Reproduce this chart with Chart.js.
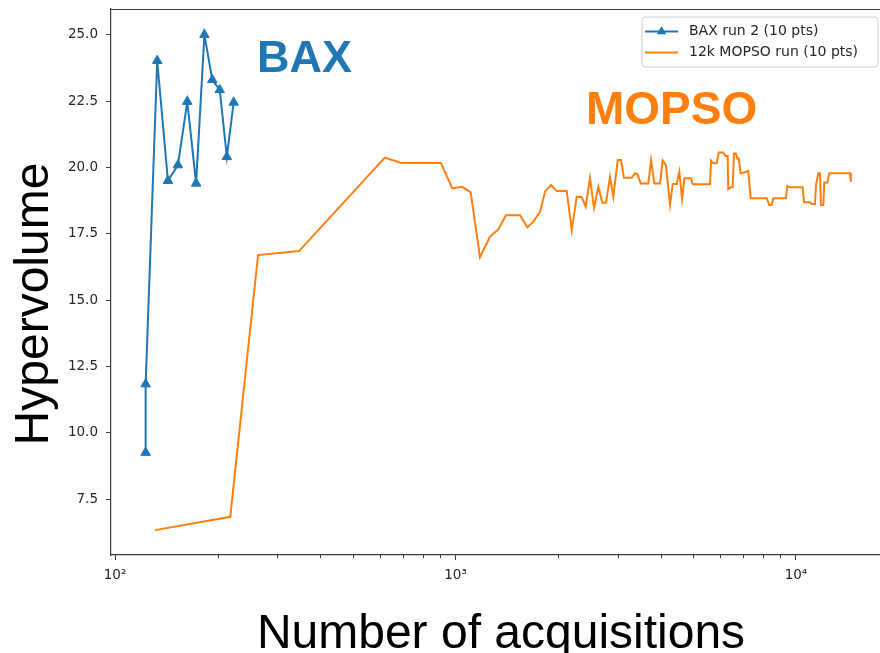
<!DOCTYPE html>
<html><head><meta charset="utf-8">
<script src="https://cdn.jsdelivr.net/npm/chart.js@4.4.0/dist/chart.umd.min.js"></script>
<style>html,body{margin:0;padding:0;background:#fff;overflow:hidden}#wrap{width:880px;height:653px;position:relative}</style>
</head><body><div id="wrap"><canvas id="c" width="880" height="653"></canvas></div>
<script>
// ---- data ----
const seriesLabels = ['BAX run 2 (10 pts)', '12k MOPSO run (10 pts)'];
const baxX = [123, 123, 133, 143, 153, 163, 173, 183, 193, 203, 213, 223];
const baxY = [9.26, 11.84, 24.02, 19.5, 20.09, 22.48, 19.4, 25.0, 23.3, 22.92, 20.4, 22.45];
const mopsoX = [131, 218, 263, 347, 620, 692, 906, 978, 1047, 1108, 1180, 1262, 1336, 1407, 1547, 1625, 1693, 1771, 1832, 1908, 1982, 2121, 2195, 2270, 2348, 2412, 2483, 2551, 2627, 2698, 2767, 2842, 2907, 2995, 3062, 3125, 3293, 3367, 3420, 3499, 3684, 3752, 3837, 3986, 4060, 4150, 4266, 4345, 4463, 4543, 4627, 4699, 4916, 4974, 5591, 5629, 5717, 5850, 5929, 6116, 6200, 6300, 6326, 6429, 6517, 6575, 6665, 6724, 6787, 6880, 7082, 7242, 7362, 8204, 8349, 8486, 8577, 9345, 9428, 9600, 10460, 10560, 10990, 11120, 11370, 11450, 11630, 11760, 11840, 12030, 12110, 12360, 12520, 14410, 14500];
const mopsoY = [6.34, 6.84, 16.7, 16.85, 20.37, 20.17, 20.17, 19.21, 19.27, 19.06, 16.62, 17.39, 17.67, 18.2, 18.2, 17.75, 17.96, 18.33, 19.09, 19.34, 19.11, 19.11, 17.64, 18.9, 18.88, 18.52, 19.59, 18.48, 19.27, 18.67, 18.67, 19.65, 18.9, 20.28, 20.28, 19.61, 19.61, 19.78, 19.74, 19.4, 19.4, 20.28, 19.4, 19.4, 20.26, 20.09, 18.59, 19.38, 19.38, 19.84, 18.81, 19.59, 19.59, 19.37, 19.37, 20.26, 20.16, 20.16, 20.56, 20.56, 20.43, 20.43, 19.18, 19.25, 19.25, 20.53, 20.53, 20.34, 20.34, 19.78, 19.82, 19.87, 18.84, 18.84, 18.59, 18.59, 18.84, 18.84, 19.3, 19.25, 19.25, 18.69, 18.69, 18.62, 18.62, 19.34, 19.78, 19.78, 18.59, 18.59, 19.43, 19.43, 19.78, 19.78, 19.46];
const yTickValues = [7.5, 10, 12.5, 15, 17.5, 20, 22.5, 25];
const xMajorTicks = [100, 1000, 10000];
const xTickLabels = ['10²', '10³', '10⁴'];
const xMinorTicks = [200, 300, 400, 500, 600, 700, 800, 900, 2000, 3000, 4000, 5000, 6000, 7000, 8000, 9000];
const xTitle = 'Number of acquisitions';
const yTitle = 'Hypervolume';
const annotationTexts = ['BAX', 'MOPSO'];

const BLUE = '#1f77b4', ORANGE = '#ff7f0e', AXIS = '#3a3a3a', TXT = '#262626';

function pts(xs, ys) { return xs.map((v, i) => ({x: v, y: ys[i]})); }

const extras = {
  id: 'extras',
  afterDraw(chart) {
    const ctx = chart.ctx, a = chart.chartArea, xs = chart.scales.x;
    ctx.save();
    // top spine
    ctx.strokeStyle = AXIS; ctx.lineWidth = 1.2;
    ctx.beginPath(); ctx.moveTo(a.left, a.top + 0.5); ctx.lineTo(a.right, a.top + 0.5); ctx.stroke();
    // minor ticks
    ctx.lineWidth = 1;
    xMinorTicks.forEach(v => {
      const px = Math.round(xs.getPixelForValue(v)) + 0.5;
      ctx.beginPath(); ctx.moveTo(px, a.bottom); ctx.lineTo(px, a.bottom + 3); ctx.stroke();
    });
    // axis titles
    ctx.fillStyle = '#000';
    ctx.font = '48px "Liberation Sans", Arial, sans-serif';
    ctx.textAlign = 'center'; ctx.textBaseline = 'alphabetic';
    ctx.fillText(xTitle, 501, 648);
    ctx.save(); ctx.translate(48, 304); ctx.rotate(-Math.PI / 2); ctx.fillText(yTitle, 0, 0); ctx.restore();
    // annotations
    ctx.textAlign = 'left';
    ctx.font = 'bold 45px "Liberation Sans", Arial, sans-serif';
    ctx.fillStyle = BLUE; ctx.fillText(annotationTexts[0], 257, 72);
    ctx.font = 'bold 46px "Liberation Sans", Arial, sans-serif';
    ctx.fillStyle = ORANGE; ctx.fillText(annotationTexts[1], 586, 124);
    // legend
    const lx = 642, ly = 17, lw = 236, lh = 50, r = 3;
    ctx.beginPath();
    ctx.moveTo(lx + r, ly); ctx.lineTo(lx + lw - r, ly); ctx.arcTo(lx + lw, ly, lx + lw, ly + r, r);
    ctx.lineTo(lx + lw, ly + lh - r); ctx.arcTo(lx + lw, ly + lh, lx + lw - r, ly + lh, r);
    ctx.lineTo(lx + r, ly + lh); ctx.arcTo(lx, ly + lh, lx, ly + lh - r, r);
    ctx.lineTo(lx, ly + r); ctx.arcTo(lx, ly, lx + r, ly, r); ctx.closePath();
    ctx.fillStyle = 'rgba(255,255,255,0.85)'; ctx.fill();
    ctx.strokeStyle = '#cccccc'; ctx.lineWidth = 1; ctx.stroke();
    const rows = [31.5, 52.5];
    chart.data.datasets.forEach((ds, i) => {
      const y = rows[i];
      ctx.strokeStyle = ds.borderColor; ctx.lineWidth = 2;
      ctx.beginPath(); ctx.moveTo(645, y); ctx.lineTo(678, y); ctx.stroke();
      if (ds.pointRadius > 0) {
        const R = 5.5, cx = 661.5;
        ctx.fillStyle = ds.borderColor; ctx.beginPath();
        ctx.moveTo(cx, y - R); ctx.lineTo(cx + R * 0.866, y + R / 2); ctx.lineTo(cx - R * 0.866, y + R / 2); ctx.closePath(); ctx.fill();
      }
      ctx.fillStyle = TXT; ctx.font = '14px "DejaVu Sans", sans-serif';
      ctx.textAlign = 'left'; ctx.textBaseline = 'middle';
      ctx.fillText(ds.label, 689, y);
    });
    ctx.restore();
  }
};

new Chart(document.getElementById('c'), {
  type: 'scatter',
  data: {
    datasets: [
      {label: seriesLabels[0], data: pts(baxX, baxY), showLine: true, borderColor: BLUE, backgroundColor: BLUE,
       borderWidth: 2, pointStyle: 'triangle', pointRadius: 5.5, pointBorderWidth: 1, pointBorderColor: BLUE, tension: 0},
      {label: seriesLabels[1], data: pts(mopsoX, mopsoY), showLine: true, borderColor: ORANGE, backgroundColor: ORANGE,
       borderWidth: 2, pointRadius: 0, tension: 0}
    ]
  },
  options: {
    responsive: false, animation: false, devicePixelRatio: 1,
    layout: {autoPadding: false, padding: {top: 9, right: 0, left: 0, bottom: 0}},
    plugins: {legend: {display: false}, tooltip: {enabled: false}},
    scales: {
      x: {
        type: 'logarithmic', position: 'bottom', min: 97.3, max: 17650,
        afterBuildTicks: s => { s.ticks = xMajorTicks.map(v => ({value: v})); },
        afterFit: s => { s.height = 98; s.paddingLeft = 0; s.paddingRight = 0; },
        ticks: {autoSkip: false, maxRotation: 0, padding: 7, color: TXT,
          font: {family: '"DejaVu Sans", sans-serif', size: 13.5},
          callback: v => xTickLabels[xMajorTicks.indexOf(v)]},
        grid: {display: true, drawOnChartArea: false, drawTicks: true, tickLength: 5, tickColor: AXIS, tickWidth: 1},
        border: {display: true, color: AXIS, width: 1.2}
      },
      y: {
        type: 'linear', position: 'left', min: 5.403, max: 25.968,
        afterBuildTicks: s => { s.ticks = yTickValues.map(v => ({value: v})); },
        afterFit: s => { s.width = 111; s.paddingTop = 0; s.paddingBottom = 0; },
        ticks: {padding: 8, color: TXT, font: {family: '"DejaVu Sans", sans-serif', size: 13.5},
          callback: v => v.toFixed(1)},
        grid: {display: true, drawOnChartArea: false, drawTicks: true, tickLength: 5, tickColor: AXIS, tickWidth: 1},
        border: {display: true, color: AXIS, width: 1.2}
      }
    }
  },
  plugins: [extras]
});
</script>
</body></html>
